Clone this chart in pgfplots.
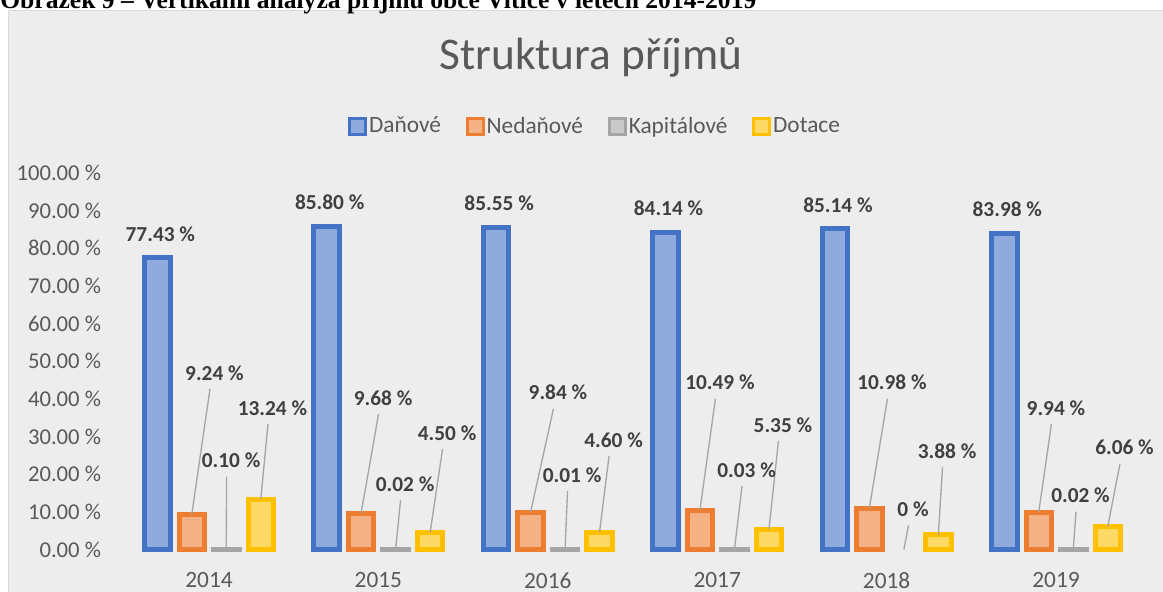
\documentclass[border=0pt]{standalone}
\usepackage{fontspec}
\setmainfont{Carlito}
\newfontfamily\capfont{Liberation Serif}
\usepackage{pgfplots}
\pgfplotsset{compat=1.18}
\usepackage{pgfplotstable}
\definecolor{txt}{HTML}{595959}
\definecolor{lbl}{HTML}{404040}
\definecolor{bgc}{HTML}{EDEDED}
\definecolor{frm}{HTML}{D9D9D9}
\definecolor{bB}{HTML}{4472C4}\definecolor{fB}{HTML}{8FAADC}
\definecolor{bO}{HTML}{ED7D31}\definecolor{fO}{HTML}{F4B183}
\definecolor{bG}{HTML}{A5A5A5}\definecolor{fG}{HTML}{C9C9C9}
\definecolor{bY}{HTML}{FFC000}\definecolor{fY}{HTML}{FFD966}
\definecolor{ldr}{HTML}{A6A6A6}

% Danove
\pgfplotstableread{
x y
0 77.43
1 85.80
2 85.55
3 84.14
4 85.14
5 83.98
}\tabD
% Nedanove (dx, dy: label offset in px from bar top)
\pgfplotstableread{
x y dx dy
0 9.24 22.7 141.7
1 9.68 21.9 115.1
2 9.84 27.4 119.8
3 10.49 20.0 127.3
4 10.98 22.6 125.5
5 9.94 17.2 104.1
}\tabN
% Kapitalove
\pgfplotstableread{
x y dx dy
0 0.10 4.8 88.4
1 0.02 9.4 65.4
2 0.01 7.0 74.5
3 0.03 12.1 79.4
5 0.02 7.25 53.7
}\tabK
\pgfplotstableread{
x y dx dy
4 0 9.2 40.2
}\tabKzero
% Dotace
\pgfplotstableread{
x y dx dy
0 13.24 11.75 91.65
1 4.50 16.9 99.6
2 4.60 14.0 92.2
3 5.35 14.0 104.4
4 3.88 8.7 83.9
5 6.06 16.75 79.0
}\tabT

\pgfplotsset{
  /pgf/number format/assume math mode=true,
  sq/.style={legend image code/.code={\draw[##1, line width=2.25pt] (0pt,-6pt) rectangle (12pt,6pt);}},
  mybar/.style={ybar, bar width=19.125pt, line width=3.75pt},
  lab/.style={
    nodes near coords={\pgfmathprintnumber[fixed,fixed zerofill,precision=2]{\pgfplotspointmeta}~\%},
    visualization depends on={\thisrow{dx} \as \dx},
    visualization depends on={\thisrow{dy} \as \dy},
    every node near coord/.append style={anchor=center, xshift={(\dx+#1)*0.75pt}, yshift={\dy*0.75pt},
      font=\fontsize{16}{19}\selectfont\bfseries, text=lbl, inner sep=0pt}},
}
\newcommand\leader[5]{\draw[ldr, line width=1pt] ([xshift={#2*0.75pt}]axis cs:#1,#3) -- ++({(#4-4.5)*0.75pt},{(#5-16)*0.75pt});}

\begin{document}
\begin{tikzpicture}
\path[fill=white] (0,0) rectangle (872.25pt,444pt);
\begin{scope}[overlay]
\filldraw[fill=bgc, draw=frm, line width=0.75pt] (6pt,-5pt) rectangle (880pt,435.75pt);
\node[anchor=base west, inner sep=0pt, font=\capfont\bfseries\fontsize{19.2}{22}\selectfont] at (0pt,437.3pt) {Obrázek 9 – Vertikální analýza příjmů obce Vitice v letech 2014-2019};
\begin{axis}[
  at={(93.225pt,31.875pt)}, anchor=south west,
  x=127.05pt, y=2.82375pt,
  xmin=-0.5, xmax=5.5, ymin=0, ymax=100,
  clip=false,
  axis line style={draw=none}, major tick length=0pt,
  xtick={0,1,2,3,4,5}, xticklabels={2014,2015,2016,2017,2018,2019},
  ytick={0,10,...,100},
  yticklabel={\pgfmathprintnumber[fixed,fixed zerofill,precision=2]{\tick}~\%},
  xticklabel style={font=\fontsize{17.5}{21}\selectfont, text=txt, inner sep=0pt, anchor=north, yshift=-16.875pt},
  yticklabel style={font=\fontsize{17}{20}\selectfont, text=txt, inner sep=0pt, anchor=east, xshift=-17.25pt},
  title={Struktura příjmů},
  title style={at={(0.4592,1.2762)}, anchor=base, yshift=-6pt, font=\fontsize{34}{40}\selectfont, text=txt, inner sep=0pt},
  legend style={at={(0.4631,1.1248)}, anchor=center, draw=none, fill=none, legend columns=4,
    font=\fontsize{17.5}{21}\selectfont, text=txt,
    /tikz/every even column/.append style={column sep=17pt}, nodes={inner sep=1.5pt}},
  legend cell align=left,
]
\addplot[mybar, bar shift=-38.8125pt, draw=bB, fill=fB, sq,
  nodes near coords={\pgfmathprintnumber[fixed,fixed zerofill,precision=2]{\pgfplotspointmeta}~\%},
  every node near coord/.append style={anchor=center, xshift=-36.5pt, yshift=18pt, font=\fontsize{16}{19}\selectfont\bfseries, text=lbl, inner sep=0pt}]
  table[x=x,y=y]{\tabD};
\addlegendentry{Daňové}
\addplot[mybar, bar shift=-12.9375pt, draw=bO, fill=fO, sq, lab=-17.25] table[x=x,y=y]{\tabN};
\addlegendentry{Nedaňové}
\addplot[mybar, bar shift=12.9375pt, draw=bG, fill=fG, sq, lab=17.25] table[x=x,y=y]{\tabK};
\addlegendentry{Kapitálové}
\addplot[mybar, bar shift=38.8125pt, draw=bY, fill=fY, sq, lab=51.75] table[x=x,y=y]{\tabT};
\addlegendentry{Dotace}
\addplot[mybar, bar shift=12.9375pt, draw=none, fill=none, forget plot, lab=17.25,
  nodes near coords={\pgfmathprintnumber{\pgfplotspointmeta}~\%}] table[x=x,y=y]{\tabKzero};
\leader{0}{-17.25}{9.24}{22.7}{141.7}
\leader{1}{-17.25}{9.68}{21.9}{115.1}
\leader{2}{-17.25}{9.84}{27.4}{119.8}
\leader{3}{-17.25}{10.49}{20.0}{127.3}
\leader{4}{-17.25}{10.98}{22.6}{125.5}
\leader{5}{-17.25}{9.94}{17.2}{104.1}
\leader{0}{17.25}{0.10}{4.8}{88.4}
\leader{1}{17.25}{0.02}{9.4}{65.4}
\leader{2}{17.25}{0.01}{7.0}{74.5}
\leader{3}{17.25}{0.03}{12.1}{79.4}
\leader{4}{17.25}{0}{9.2}{40.2}
\leader{5}{17.25}{0.02}{7.25}{53.7}
\leader{0}{51.75}{13.24}{11.75}{91.65}
\leader{1}{51.75}{4.50}{16.9}{99.6}
\leader{2}{51.75}{4.60}{14.0}{92.2}
\leader{3}{51.75}{5.35}{14.0}{104.4}
\leader{4}{51.75}{3.88}{8.7}{83.9}
\leader{5}{51.75}{6.06}{16.75}{79.0}
\end{axis}
\end{scope}
\end{tikzpicture}
\end{document}
